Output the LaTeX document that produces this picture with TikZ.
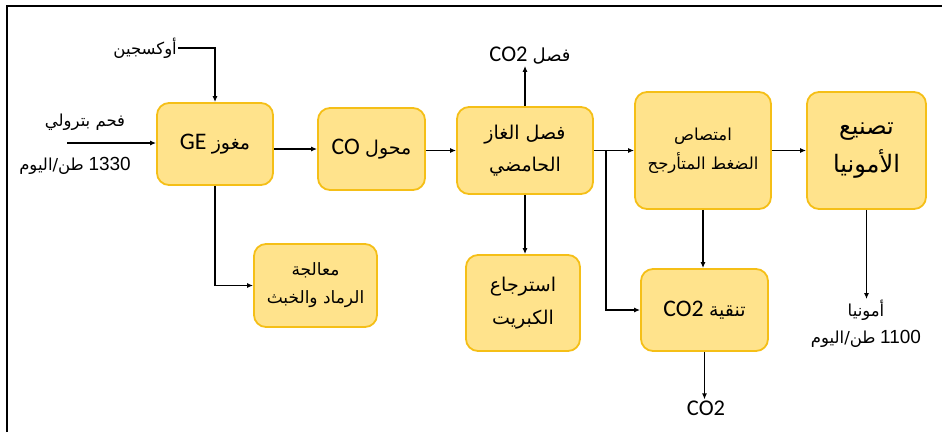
\documentclass[tikz,border=0pt]{standalone}
\usepackage{fontspec}
\setmainfont{Carlito}[Scale=1.25]
\newfontfamily\arfont[Script=Arabic]{DejaVu Sans}
\newfontfamily\numfont{Liberation Sans}[Scale=1.15]
\TeXXeTstate=1
\usetikzlibrary{arrows.meta}

\definecolor{boxfill}{HTML}{FFE38C}
\definecolor{boxline}{HTML}{F5BF17}

% arabic words, set right to left
\newcommand{\artxt}[1]{{\arfont\beginR #1\endR}}

\begin{document}
\begin{tikzpicture}[x=1pt, y=-1pt,
  unit/.style={draw=boxline, fill=boxfill, line width=1.8pt,
               rounded corners=12pt, align=center, inner sep=2pt,
               font=\fontsize{19}{32}\selectfont},
  flow/.style={-{Latex[length=6pt, width=5pt]}, line width=1.6pt},
  lbl/.style={align=center, inner sep=1pt, font=\fontsize{16.5}{27}\selectfont}]

\useasboundingbox (0,0) rectangle (947,432);
\draw[line width=1.6pt] (7,432) -- (7,6) -- (942,6);

% main line of units
\node[unit, minimum width=116pt, minimum height=82pt] (ge) at (215,144)
  {GE\ \artxt{مغوز}};
\node[unit, minimum width=107pt, minimum height=82pt] (shift) at (371.5,149)
  {CO\ \artxt{محول}};
\node[unit, minimum width=136pt, minimum height=87pt] (acid) at (525,150.5)
  {\artxt{فصل الغاز}\\ \artxt{الحامضي}};
\node[unit, minimum width=136pt, minimum height=117pt,
      font=\fontsize{16.5}{29}\selectfont] (psa) at (703,150.5)
  {\artxt{امتصاص}\\ \artxt{الضغط المتأرجح}};
\node[unit, minimum width=119pt, minimum height=117pt,
      font=\fontsize{24}{38}\selectfont] (amm) at (866.5,150.5)
  {\artxt{تصنيع}\\ \artxt{الأمونيا}};

% side units
\node[unit, minimum width=123pt, minimum height=83pt,
      font=\fontsize{17}{28}\selectfont] (ash) at (315.5,285.5)
  {\artxt{معالجة}\\ \artxt{الرماد والخبث}};
\node[unit, minimum width=114pt, minimum height=96pt,
      font=\fontsize{19}{33}\selectfont] (sulf) at (523,303)
  {\artxt{استرجاع}\\ \artxt{الكبريت}};
\node[unit, minimum width=127pt, minimum height=82pt] (pur) at (704.5,310)
  {CO2\ \artxt{تنقية}};

% feeds and products
\node[lbl, anchor=east] (oxy) at (178,48) {\artxt{أوكسجين}};
\node[lbl] (coal) at (85,122) {\artxt{فحم بترولي}};
\node[lbl] (coalrate) at (75,166) {\artxt{طن/اليوم} {\numfont 1330}};
\coordinate (coalin) at (67,143);
\node[lbl, font=\fontsize{18}{27}\selectfont] (co2sep) at (530,56) {CO2\ \artxt{فصل}};
\node[lbl] (nh3) at (866,324) {\artxt{أمونيا}\\ \artxt{طن/اليوم} {\numfont 1100}};
\node[lbl, font=\fontsize{18}{27}\selectfont] (co2out) at (706,408) {CO2};
\coordinate (split) at (606,150);

\draw[flow] (coalin) -- (coalin -| ge.west);
\draw[flow] (oxy.east) -| (ge.north);
\draw[flow] (ge.east |- shift.west) -- (shift.west);
\draw[flow] (shift.east |- acid.west) -- (acid.west);
\draw[flow] (acid.east) -- (psa.west);
\draw[flow] (psa.east) -- (amm.west);
\draw[flow] (acid.north) -- (acid.north |- co2sep.south);
\draw[flow] (ge.south) |- (ash.west);
\draw[flow] (acid.south) -- (acid.south |- sulf.north);
\draw[flow] (split) |- (pur.west);
\draw[flow] (psa.south) -- (psa.south |- pur.north);
\draw[flow] (pur.south) -- (pur.south |- co2out.north);
\draw[flow] (amm.south) -- (amm.south |- nh3.north);

\end{tikzpicture}
\end{document}
